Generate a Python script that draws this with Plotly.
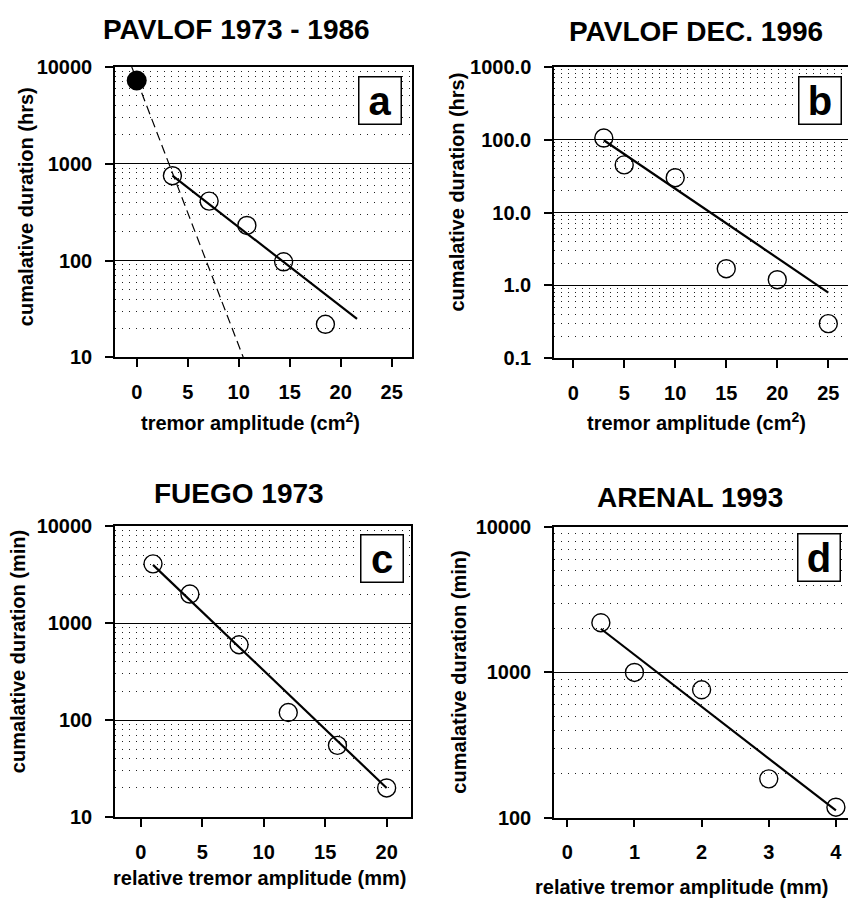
import math
import plotly.graph_objects as go

# ---------------- data ----------------
# panel a : PAVLOF 1973 - 1986
a_x = [3.5, 7.1, 10.8, 14.4, 18.5]
a_y = [750, 410, 230, 97, 22]
a_fill_x = [0]
a_fill_y = [7200]
a_fit_x = [3.5, 21.6]
a_fit_y = [750, 25]
a_dash_x = [-0.5, 10.45]
a_dash_y = [10000, 10]

# panel b : PAVLOF DEC. 1996
b_x = [3, 5, 10, 15, 20, 25]
b_y = [105, 45, 30, 1.7, 1.2, 0.3]
b_fit_x = [3, 25]
b_fit_y = [98, 0.8]

# panel c : FUEGO 1973
c_x = [1, 4, 8, 12, 16, 20]
c_y = [4100, 2000, 600, 120, 55, 20]
c_fit_x = [1, 20]
c_fit_y = [4000, 20]

# panel d : ARENAL 1993
d_x = [0.5, 1, 2, 3, 4]
d_y = [2200, 1000, 760, 185, 118]
d_fit_x = [0.5, 4]
d_fit_y = [2000, 112]

titles = ["PAVLOF 1973 - 1986", "PAVLOF DEC. 1996", "FUEGO 1973", "ARENAL 1993"]
letters = ["a", "b", "c", "d"]
xtitles = ["tremor amplitude (cm<sup>2</sup>)", "tremor amplitude (cm<sup>2</sup>)",
           "relative tremor amplitude (mm)", "relative tremor amplitude (mm)"]
ytitles = ["cumalative duration (hrs)", "cumalative duration (hrs)",
           "cumalative duration (min)", "cumalative duration (min)"]

a_xticks = [0, 5, 10, 15, 20, 25]
b_xticks = [0, 5, 10, 15, 20, 25]
c_xticks = [0, 5, 10, 15, 20]
d_xticks = [0, 1, 2, 3, 4]

a_yticks = [10, 100, 1000, 10000]
a_ytext = ["10", "100", "1000", "10000"]
b_yticks = [0.1, 1, 10, 100, 1000]
b_ytext = ["0.1", "1.0", "10.0", "100.0", "1000.0"]
c_yticks = [10, 100, 1000, 10000]
c_ytext = ["10", "100", "1000", "10000"]
d_yticks = [100, 1000, 10000]
d_ytext = ["100", "1000", "10000"]

# ---------------- layout helpers ----------------
W, H = 848, 915
FONT = "Liberation Sans, Arial, Helvetica, sans-serif"


def px(x):
    return x / W


def py(y):
    return 1 - y / H


def minor_vals(lo, hi):
    vals = []
    d = lo
    while d < hi:
        for k in range(2, 10):
            vals.append(k * d)
        d *= 10
    return vals


def xaxis(dom, rng, ticks, anchor):
    return dict(domain=[px(dom[0]), px(dom[1])], range=rng, anchor=anchor,
                tickmode="array", tickvals=ticks, ticktext=[str(t) for t in ticks],
                ticks="outside", ticklen=8, tickwidth=1.5, tickcolor="black",
                showline=True, linecolor="black", linewidth=1.5, mirror=True,
                showgrid=False, zeroline=False, ticklabelstandoff=8,
                tickfont=dict(family=FONT, size=20, color="black", weight="bold"))


def yaxis(dom, lo, hi, ticks, text, anchor, mirror):
    return dict(domain=[py(dom[1]), py(dom[0])], type="log",
                range=[math.log10(lo), math.log10(hi)], anchor=anchor,
                tickmode="array", tickvals=ticks, ticktext=text,
                ticks="outside", ticklen=8, tickwidth=1.5, tickcolor="black",
                showline=True, linecolor="black", linewidth=1.5, mirror=mirror,
                showgrid=True, gridcolor="black", gridwidth=1.4, zeroline=False,
                ticklabelstandoff=9,
                tickfont=dict(family=FONT, size=20, color="black", weight="bold"),
                minor=dict(tickmode="array", tickvals=minor_vals(lo, hi), ticklen=0,
                           showgrid=True, gridcolor="#222", gridwidth=1,
                           griddash="1px,6px"))


fig = go.Figure()

open_marker = dict(symbol="circle-open", size=18, color="black", line=dict(width=1.4, color="black"))
fit_line = dict(color="black", width=2.2)

# panel a
fig.add_trace(go.Scatter(x=a_dash_x, y=a_dash_y, mode="lines", line=dict(color="black", width=1.2, dash="9px,5px"),
                         xaxis="x", yaxis="y"))
fig.add_trace(go.Scatter(x=a_fit_x, y=a_fit_y, mode="lines", line=fit_line, xaxis="x", yaxis="y"))
fig.add_trace(go.Scatter(x=a_x, y=a_y, mode="markers", marker=open_marker, xaxis="x", yaxis="y"))
fig.add_trace(go.Scatter(x=a_fill_x, y=a_fill_y, mode="markers",
                         marker=dict(symbol="circle", size=20, color="black"), xaxis="x", yaxis="y"))
# panel b
fig.add_trace(go.Scatter(x=b_fit_x, y=b_fit_y, mode="lines", line=fit_line, xaxis="x2", yaxis="y2"))
fig.add_trace(go.Scatter(x=b_x, y=b_y, mode="markers", marker=open_marker, xaxis="x2", yaxis="y2"))
# panel c
fig.add_trace(go.Scatter(x=c_fit_x, y=c_fit_y, mode="lines", line=fit_line, xaxis="x3", yaxis="y3"))
fig.add_trace(go.Scatter(x=c_x, y=c_y, mode="markers", marker=open_marker, xaxis="x3", yaxis="y3"))
# panel d
fig.add_trace(go.Scatter(x=d_fit_x, y=d_fit_y, mode="lines", line=fit_line, xaxis="x4", yaxis="y4"))
fig.add_trace(go.Scatter(x=d_x, y=d_y, mode="markers", marker=open_marker, xaxis="x4", yaxis="y4"))

# panel boxes in pixel space: (left, right, top, bottom)
A = (115, 411.5, 57, 355)
B = (554, 848, 57, 356)
C = (115, 411, 528, 826)
D = (554, 848, 529, 826.5)

fig.update_layout(
    width=W, height=H, margin=dict(l=0, r=0, t=0, b=0),
    paper_bgcolor="white", plot_bgcolor="white", showlegend=False,
    xaxis=xaxis(A[:2], [-2.13, 26.94], a_xticks, "y"),
    yaxis=yaxis(A[2:], 10, 10000, a_yticks, a_ytext, "x", True),
    xaxis2=xaxis(B[:2], [-1.88, 26.93], b_xticks, "y2"),
    yaxis2=yaxis(B[2:], 0.1, 1000, b_yticks, b_ytext, "x2", False),
    xaxis3=xaxis(C[:2], [-2.09, 21.98], c_xticks, "y3"),
    yaxis3=yaxis(C[2:], 10, 10000, c_yticks, c_ytext, "x3", True),
    xaxis4=xaxis(D[:2], [-0.198, 4.18], d_xticks, "y4"),
    yaxis4=yaxis(D[2:], 100, 10000, d_yticks, d_ytext, "x4", False),
)

ann = []
title_pos = [(236, 19), (696, 21), (239, 494), (690, 498)]
xt_pos = [(250, 421), (696, 421), (259, 888), (681, 898)]
yt_pos = [(26, 201), (457, 185), (18, 657), (459, 678)]
box_pos = [(380, 91.5), (820, 92), (382, 561.5), (819, 559.5)]
for i in range(4):
    ann.append(dict(text=titles[i], x=px(title_pos[i][0]), y=py(title_pos[i][1]), xref="paper", yref="paper",
                    showarrow=False, xanchor="center", yanchor="middle",
                    font=dict(family=FONT, size=28, color="black", weight="bold")))
    ann.append(dict(text=xtitles[i], x=px(xt_pos[i][0]), y=py(xt_pos[i][1]), xref="paper", yref="paper",
                    showarrow=False, xanchor="center", yanchor="middle",
                    font=dict(family=FONT, size=20, color="black", weight="bold")))
    ann.append(dict(text=ytitles[i], x=px(yt_pos[i][0]), y=py(yt_pos[i][1]), xref="paper", yref="paper",
                    showarrow=False, xanchor="center", yanchor="middle", textangle=-90,
                    font=dict(family=FONT, size=20, color="black", weight="bold")))
    ann.append(dict(text=letters[i], x=px(box_pos[i][0]), y=py(box_pos[i][1]), xref="paper", yref="paper",
                    showarrow=False, xanchor="center", yanchor="middle",
                    width=41, height=46, borderpad=0, bordercolor="black", borderwidth=1.5, bgcolor="white",
                    font=dict(family=FONT, size=40, color="black", weight="bold")))
fig.update_layout(annotations=ann)

fig.write_html("out.html")
